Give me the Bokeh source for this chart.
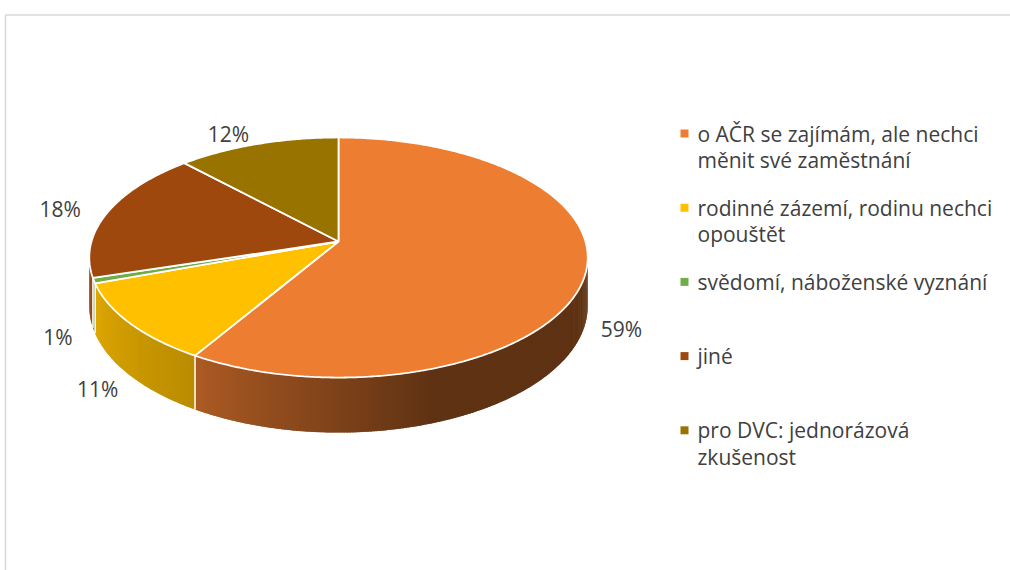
import numpy as np
import textwrap
from bokeh.plotting import figure
from bokeh.models import Range1d
from bokeh.core.properties import value
from bokeh.embed import file_html
from bokeh.resources import INLINE

# ---- data ----
categories = [
    "o AČR se zajímám, ale nechci měnit své zaměstnání",
    "rodinné zázemí, rodinu nechci opouštět",
    "svědomí, náboženské vyznání",
    "jiné",
    "pro DVC: jednorázová zkušenost",
]
shares = [58.6, 10.9, 0.7, 17.8, 12.0]
colors = ["#ED7D31", "#FFC000", "#70AD47", "#9E480E", "#997300"]

FONT = "Open Sans"
FSIZE = "21px"
TXT = "#404040"

# ---- geometry of the perspective pie (pixel space) ----
CX, CY = 338.0, 241.0
S, B, A, H = 247.0, 117.9, 0.1333, 47.7


def proj(theta_deg, r=1.0, z=0.0):
    t = np.radians(theta_deg)
    u = r * np.sin(t)
    v = r * np.cos(t)
    d = 1 + A * v
    return CX + S * u / d, CY - (B * v - H * z) / d


def shade(hexc, f):
    r, g, b = int(hexc[1:3], 16), int(hexc[3:5], 16), int(hexc[5:7], 16)
    return "#%02x%02x%02x" % (int(r * f), int(g * f), int(b * f))


LIGHT_ANG = [90, 160, 211, 250, 270]
LIGHT_VAL = [0.40, 0.40, 0.73, 0.87, 0.92]

total = float(sum(shares))
bounds = np.concatenate([[0.0], np.cumsum(shares) / total * 360.0])

# silhouette of the wall under perspective
TH_LIM = float(np.degrees(np.arccos(-A)))

W, HT = 1010, 570
p = figure(width=W, height=HT, x_range=Range1d(0, W), y_range=Range1d(HT, 0),
           output_backend="svg", toolbar_location=None, min_border=0,
           x_axis_type=None, y_axis_type=None)
p.grid.visible = False
p.outline_line_color = None
p.background_fill_color = "white"

# chart frame (light grey)
p.segment(x0=[4.5, 5], y0=[14.5, 14.5], x1=[W, 5], y1=[14.5, HT],
          line_color="#D9D9D9", line_width=1.5)

# ---- outer wall (front half), smooth shading via overlapping strips ----
wx, wy, wc = [], [], []
STEP = 0.6
for i in range(len(shares)):
    a0, a1 = max(bounds[i], TH_LIM), min(bounds[i + 1], 360.0 - TH_LIM)
    if a1 <= a0:
        continue
    n = max(2, int(np.ceil((a1 - a0) / STEP)))
    angs = np.linspace(a0, a1, n + 1)
    for k in range(n):
        t0 = angs[k]
        t1 = min(angs[k + 1] + STEP * 0.8, a1)
        x0, y0 = proj(t0)
        x1, y1 = proj(t1)
        x2, y2 = proj(t1, z=1)
        x3, y3 = proj(t0, z=1)
        wx.append([x0, x1, x2, x3])
        wy.append([y0, y1, y2, y3])
        f = float(np.interp(0.5 * (angs[k] + angs[k + 1]), LIGHT_ANG, LIGHT_VAL))
        wc.append(shade(colors[i], f))
p.patches(wx, wy, fill_color=wc, line_color=None)

# white lines on the wall at slice boundaries
bx0, by0, bx1, by1 = [], [], [], []
for b in bounds[1:-1]:
    if TH_LIM < b < 360.0 - TH_LIM:
        x0, y0 = proj(b)
        x1, y1 = proj(b, z=1)
        bx0.append(x0); by0.append(y0); bx1.append(x1); by1.append(y1)
p.segment(bx0, by0, bx1, by1, line_color="white", line_width=1.5)

# ---- top faces ----
tx, ty = [], []
for i in range(len(shares)):
    angs = np.linspace(bounds[i], bounds[i + 1], max(3, int((bounds[i + 1] - bounds[i]) / 0.5) + 2))
    xs, ys = proj(angs)
    tx.append([CX] + list(xs))
    ty.append([CY] + list(ys))
p.patches(tx, ty, fill_color=colors, line_color="white", line_width=1.8)

# ---- data labels ----
lx, ly, lt, la = [], [], [], []
for i, sh in enumerate(shares):
    mid = 0.5 * (bounds[i] + bounds[i + 1])
    front = np.cos(np.radians(mid)) < 0
    x, y = proj(mid, r=1.14 if front else 1.12, z=1.0 if front else 0.0)
    lx.append(x); ly.append(y)
    la.append("center" if front else "right")
    lt.append("%d%%" % int(np.floor(sh / total * 100 + 0.5)))
p.text(lx, ly, text=lt, text_font=value(FONT), text_font_size=FSIZE,
       text_color=TXT, text_align=la, text_baseline="middle")

# ---- legend ----
LEG_X, LEG_Y, LEG_STEP, LINE_H = 684, 133, 74.2, 26.5
mx, my, tlx, tly, tlt = [], [], [], [], []
for i, cat in enumerate(categories):
    y0 = LEG_Y + i * LEG_STEP
    mx.append(LEG_X); my.append(y0)
    for j, line in enumerate(textwrap.wrap(cat, width=29)):
        tlx.append(LEG_X + 13); tly.append(y0 + j * LINE_H); tlt.append(line)
p.rect(mx, my, width=8, height=8, fill_color=colors, line_color=None)
p.text(tlx, tly, text=tlt, text_font=value(FONT), text_font_size=FSIZE,
       text_color=TXT, text_align="left", text_baseline="middle")

open("out.html", "w").write(file_html(p, INLINE))
